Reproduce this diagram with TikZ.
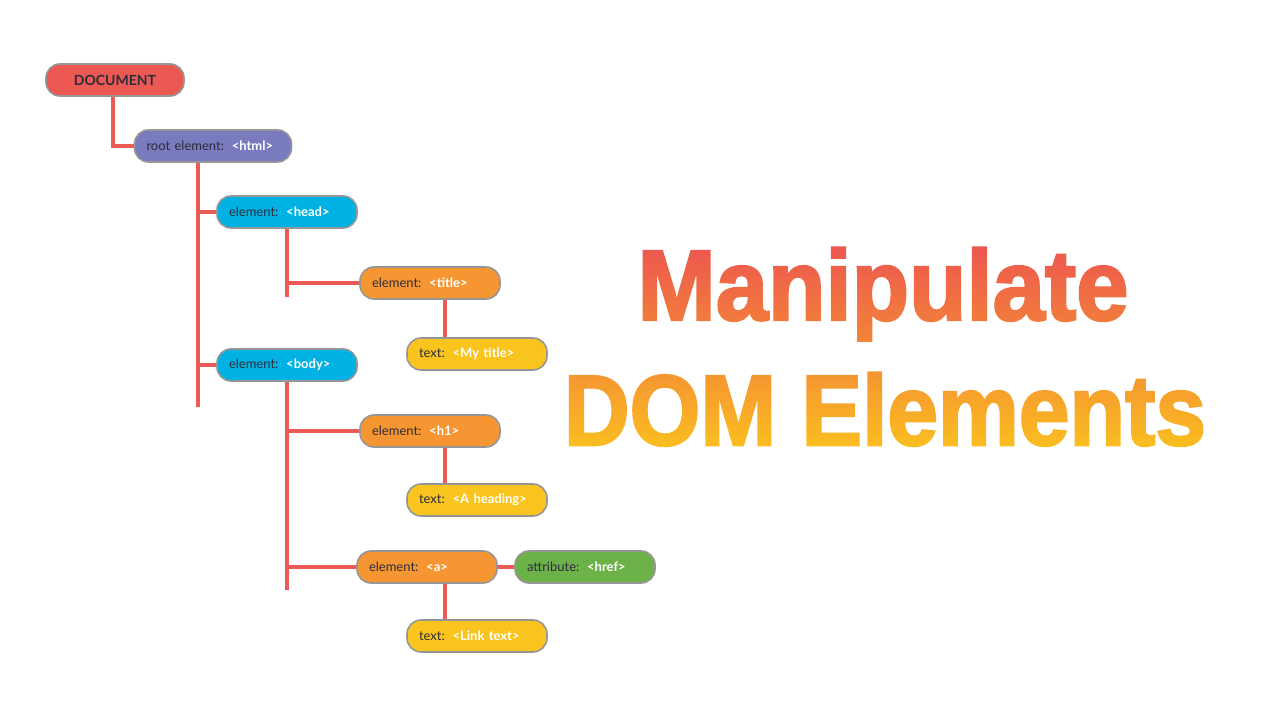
\documentclass[tikz,border=0pt]{standalone}
\usepackage{fontspec}
\setmainfont{Lato}
\newfontfamily\titlefont[FakeBold=2.5]{Liberation Sans}
\usepackage{tikz}
\usetikzlibrary{positioning, fadings}

\definecolor{docred}{RGB}{236,88,82}
\definecolor{htmlpurple}{RGB}{122,122,190}
\definecolor{elcyan}{RGB}{0,178,228}
\definecolor{elorange}{RGB}{246,150,50}
\definecolor{txtyellow}{RGB}{250,196,30}
\definecolor{attrgreen}{RGB}{108,178,72}
\definecolor{linkred}{RGB}{235,90,85}
\definecolor{rimgray}{RGB}{150,150,150}
\definecolor{labeldark}{RGB}{45,45,60}
\definecolor{titletop}{RGB}{236,82,82}
\definecolor{titlemid}{RGB}{243,135,55}
\definecolor{titlebot}{RGB}{251,195,30}

\tikzset{
  dombox/.style={draw=rimgray, line width=0.8pt, rounded corners=7pt,
    minimum height=16pt, inner xsep=6pt, inner ysep=0pt,
    text width=58pt, align=left, text=labeldark,
    font=\fontsize{6.5}{7}\selectfont},
  rootbox/.style={dombox, fill=htmlpurple, text width=66.5pt},
  elbox/.style={dombox, fill=elcyan},
  tagbox/.style={dombox, fill=elorange},
  textbox/.style={dombox, fill=txtyellow},
  attrbox/.style={dombox, fill=attrgreen},
  link/.style={draw=linkred, line width=1.8pt}
}
\newcommand{\tagname}[1]{\hspace{0.6em}{\color{white}\bfseries #1}}

\begin{tikzfadingfrompicture}[name=titlefade, x=0.5pt, y=-0.5pt]
  \path (-330,-110) rectangle (330,110);
  \node[text=transparent!0, anchor=base] at (-2,-26)
    {\scalebox{0.94}[1]{\titlefont\bfseries\fontsize{50}{50}\selectfont Manipulate}};
  \node[text=transparent!0, anchor=base] at (0,99)
    {\scalebox{0.91}[1]{\titlefont\bfseries\fontsize{50}{50}\selectfont DOM Elements}};
\end{tikzfadingfrompicture}

\begin{document}
\begin{tikzpicture}[x=0.5pt, y=-0.5pt]
  \useasboundingbox (0,0) rectangle (1280,710);

  \node[dombox, fill=docred, text width=, align=center, minimum width=69pt,
        font=\fontsize{7}{8}\selectfont\bfseries, text=labeldark] (doc) at (115,80) {DOCUMENT};
  \node[rootbox] (html) at (213,146) {root element:\tagname{<html>}};
  \node[elbox] (head) at (287,212) {element:\tagname{<head>}};
  \node[tagbox] (title) at (430,283) {element:\tagname{<title>}};
  \node[textbox] (mytitle) at (477,354) {text:\tagname{<My title>}};
  \node[elbox] (body) at (287,365) {element:\tagname{<body>}};
  \node[tagbox] (hone) at (430,431) {element:\tagname{<h1>}};
  \node[textbox] (heading) at (477,500) {text:\tagname{<A heading>}};
  \node[tagbox] (a) at (427,567) {element:\tagname{<a>}};
  \node[attrbox] (href) at (585,567) {attribute:\tagname{<href>}};
  \node[textbox] (linktext) at (477,636) {text:\tagname{<Link text>}};

  \coordinate (htmlend) at (198,407);
  \coordinate (headend) at (287,297);
  \coordinate (bodyend) at (287,590);

  \draw[link] ([xshift=-1pt]doc.south) |- (html);
  \draw[link] (html.south -| htmlend) -- (htmlend);
  \draw[link] (htmlend |- head) -- (head);
  \draw[link] (htmlend |- body) -- (body);
  \draw[link] (head.south -| headend) -- (headend);
  \draw[link] (headend |- title) -- (title);
  \draw[link] ([xshift=7.5pt]title.south) -- ([xshift=7.5pt]title.south |- mytitle.north);
  \draw[link] (body.south -| bodyend) -- (bodyend);
  \draw[link] (bodyend |- hone) -- (hone);
  \draw[link] (bodyend |- a) -- (a);
  \draw[link] ([xshift=7.5pt]hone.south) -- ([xshift=7.5pt]hone.south |- heading.north);
  \draw[link] (a) -- (href);
  \draw[link] ([xshift=9pt]a.south) -- ([xshift=9pt]a.south |- linktext.north);

  \shade[path fading=titlefade, fit fading=false, fading transform={shift={(885,346)}},
         top color=titletop, bottom color=titlebot, middle color=titlemid]
    (555,236) rectangle (1215,456);
\end{tikzpicture}
\end{document}
